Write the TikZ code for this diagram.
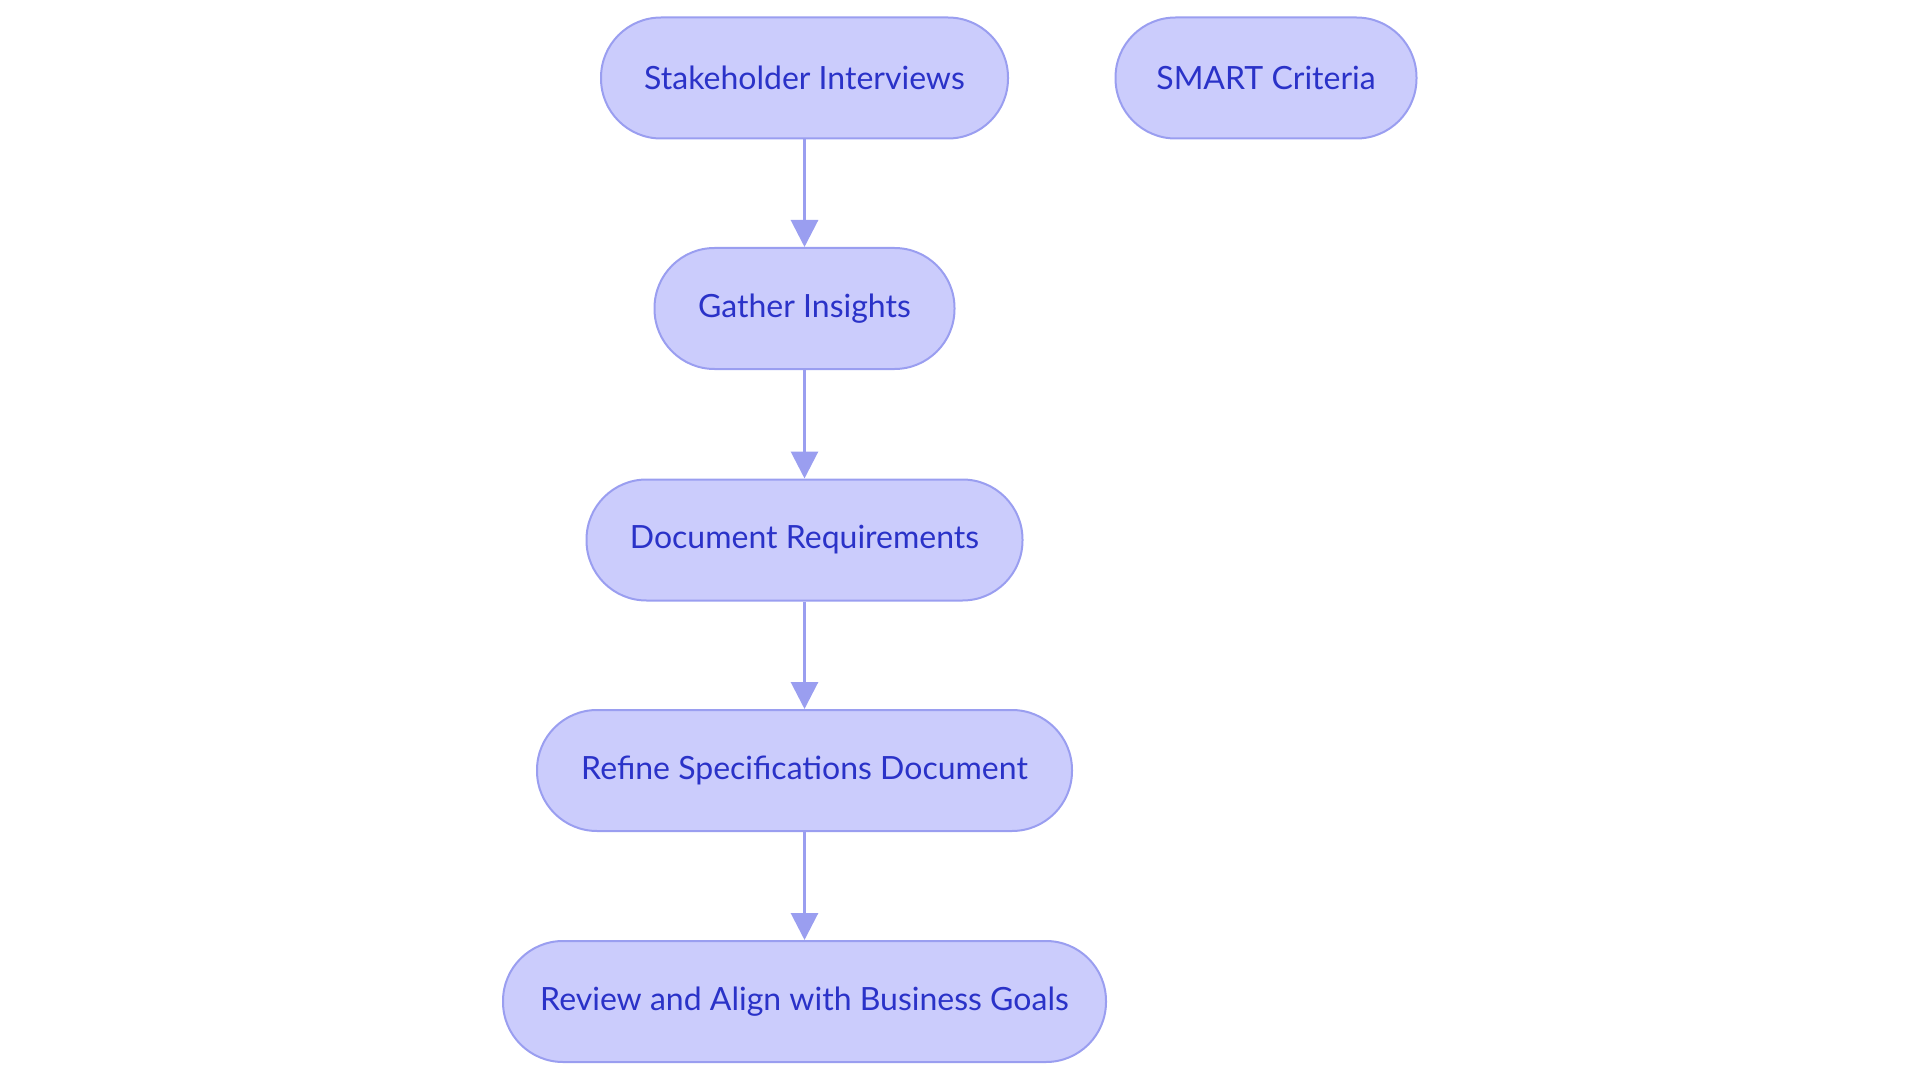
\documentclass[tikz,border=0pt]{standalone}
\usepackage{fontspec}
\setmainfont{Lato}
\usetikzlibrary{arrows.meta}
\definecolor{nodefill}{HTML}{CBCCFC}
\definecolor{nodeline}{HTML}{9A9EF0}
\definecolor{nodetext}{HTML}{2A32C8}
\begin{document}
\begin{tikzpicture}[x=1pt,y=-1pt,
  pill/.style={draw=nodeline,fill=nodefill,line width=2pt,rounded corners=60pt,
    minimum height=121pt,inner sep=0pt,text=nodetext,
    font=\fontsize{32}{38}\selectfont},
  conn/.style={draw=nodeline,line width=3pt,-{Triangle[length=27pt,width=27pt]}}]
\useasboundingbox (0,0) rectangle (1920,1083);
\node[pill,minimum width=407pt] (a) at (804.5,78) {Stakeholder Interviews};
\node[pill,minimum width=301pt] (s) at (1266,78) {SMART Criteria};
\node[pill,minimum width=300pt] (b) at (804.5,308.5) {Gather Insights};
\node[pill,minimum width=436pt] (c) at (804.5,540) {Document Requirements};
\node[pill,minimum width=535pt] (d) at (804.5,770.5) {Refine Specifications Document};
\node[pill,minimum width=603pt] (e) at (804.5,1001.5) {Review and Align with Business Goals};
\draw[conn] (a) -- (b);
\draw[conn] (b) -- (c);
\draw[conn] (c) -- (d);
\draw[conn] (d) -- (e);
\end{tikzpicture}
\end{document}
